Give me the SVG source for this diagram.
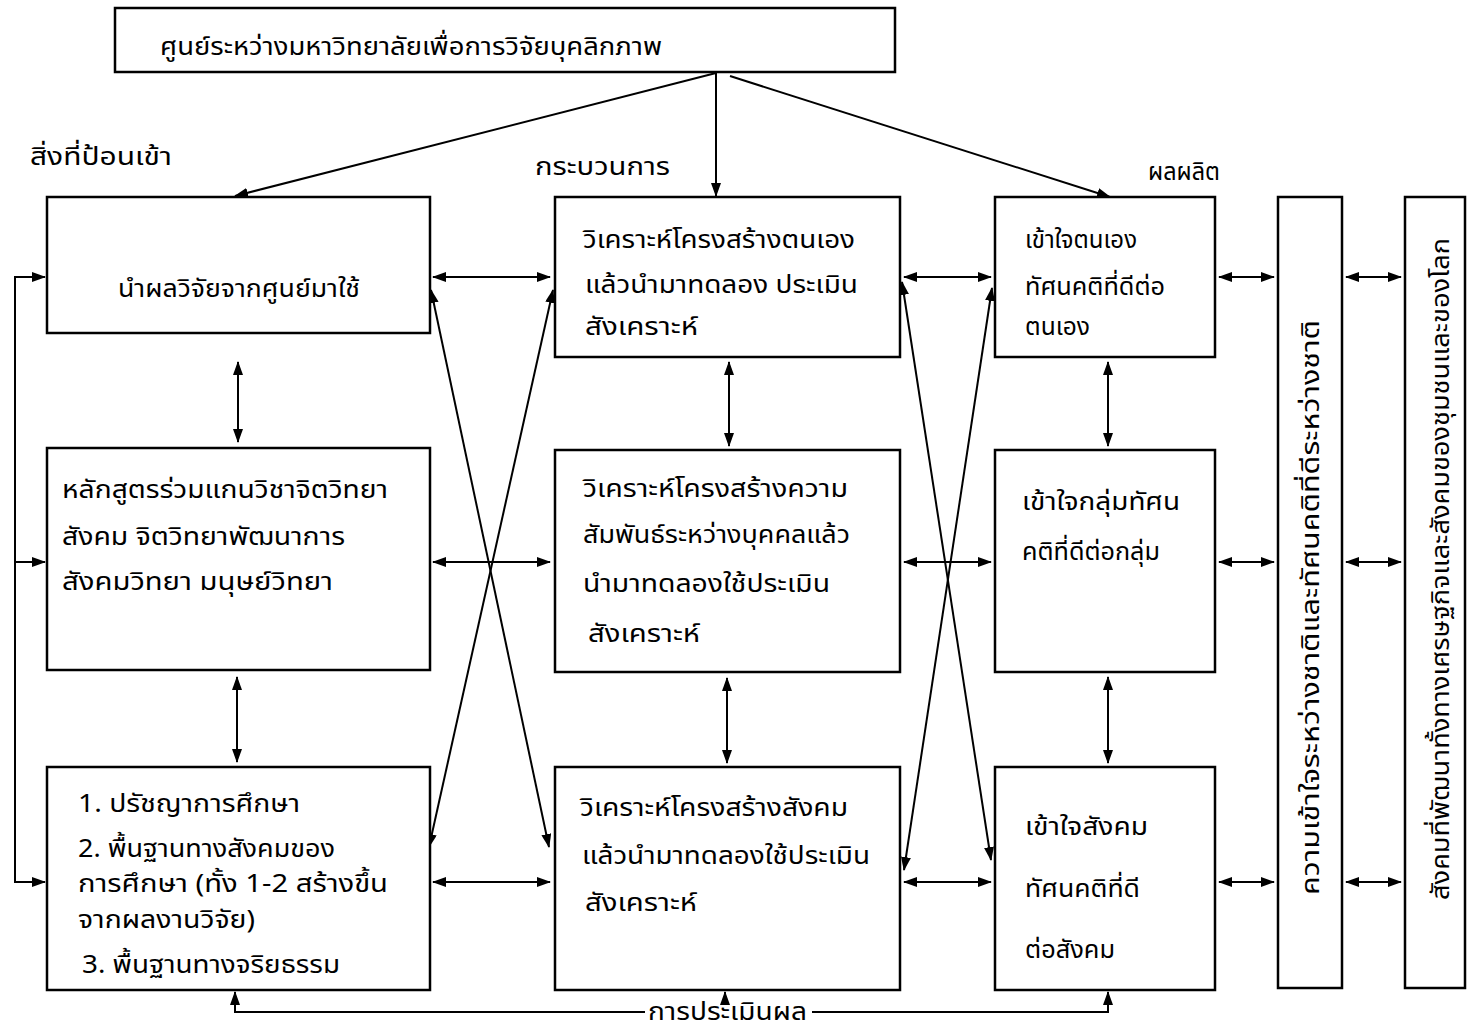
<svg xmlns="http://www.w3.org/2000/svg" width="1467" height="1029" viewBox="0 0 1467 1029">
<style>
.box{fill:#fff;stroke:#000;stroke-width:2.5}
.t{font-family:"Noto Sans Thai","Loma","Garuda","Noto Sans","DejaVu Sans",sans-serif;font-size:25px;fill:#000}
.c{fill:none;stroke:#000;stroke-width:2}
</style>
<defs>
<marker id="ah" markerUnits="userSpaceOnUse" markerWidth="14" markerHeight="10" refX="13" refY="5" orient="auto-start-reverse">
<path d="M0,0 L14,5 L0,10 z" fill="#000"/>
</marker>
</defs>
<rect width="1467" height="1029" fill="#fff"/>

<g id="connectors">
<line class="c" x1="716" y1="73" x2="235" y2="196" marker-end="url(#ah)"/>
<line class="c" x1="716" y1="73" x2="716" y2="196" marker-end="url(#ah)"/>
<line class="c" x1="730" y1="76" x2="1110" y2="197" marker-end="url(#ah)"/>
<line class="c" x1="433" y1="277" x2="550" y2="277" marker-start="url(#ah)" marker-end="url(#ah)"/>
<line class="c" x1="433" y1="562" x2="550" y2="562" marker-start="url(#ah)" marker-end="url(#ah)"/>
<line class="c" x1="433" y1="882" x2="550" y2="882" marker-start="url(#ah)" marker-end="url(#ah)"/>
<line class="c" x1="904" y1="277" x2="991" y2="277" marker-start="url(#ah)" marker-end="url(#ah)"/>
<line class="c" x1="904" y1="562" x2="991" y2="562" marker-start="url(#ah)" marker-end="url(#ah)"/>
<line class="c" x1="904" y1="882" x2="991" y2="882" marker-start="url(#ah)" marker-end="url(#ah)"/>
<line class="c" x1="1219" y1="277" x2="1274" y2="277" marker-start="url(#ah)" marker-end="url(#ah)"/>
<line class="c" x1="1219" y1="562" x2="1274" y2="562" marker-start="url(#ah)" marker-end="url(#ah)"/>
<line class="c" x1="1219" y1="882" x2="1274" y2="882" marker-start="url(#ah)" marker-end="url(#ah)"/>
<line class="c" x1="1346" y1="277" x2="1401" y2="277" marker-start="url(#ah)" marker-end="url(#ah)"/>
<line class="c" x1="1346" y1="562" x2="1401" y2="562" marker-start="url(#ah)" marker-end="url(#ah)"/>
<line class="c" x1="1346" y1="882" x2="1401" y2="882" marker-start="url(#ah)" marker-end="url(#ah)"/>
<line class="c" x1="238" y1="362" x2="238" y2="442" marker-start="url(#ah)" marker-end="url(#ah)"/>
<line class="c" x1="237" y1="677" x2="237" y2="762" marker-start="url(#ah)" marker-end="url(#ah)"/>
<line class="c" x1="729" y1="362" x2="729" y2="446" marker-start="url(#ah)" marker-end="url(#ah)"/>
<line class="c" x1="727" y1="678" x2="727" y2="763" marker-start="url(#ah)" marker-end="url(#ah)"/>
<line class="c" x1="1108" y1="362" x2="1108" y2="446" marker-start="url(#ah)" marker-end="url(#ah)"/>
<line class="c" x1="1108" y1="677" x2="1108" y2="763" marker-start="url(#ah)" marker-end="url(#ah)"/>
<line class="c" x1="431" y1="290" x2="549" y2="847" marker-start="url(#ah)" marker-end="url(#ah)"/>
<line class="c" x1="553" y1="290" x2="429" y2="847" marker-start="url(#ah)" marker-end="url(#ah)"/>
<line class="c" x1="902" y1="282" x2="991" y2="860" marker-start="url(#ah)" marker-end="url(#ah)"/>
<line class="c" x1="992" y1="288" x2="904" y2="870" marker-start="url(#ah)" marker-end="url(#ah)"/>
<path class="c" d="M45,277 H15 V882 H45"/>
<line class="c" x1="15" y1="277" x2="45" y2="277" marker-end="url(#ah)"/>
<line class="c" x1="15" y1="562" x2="45" y2="562" marker-end="url(#ah)"/>
<line class="c" x1="15" y1="882" x2="45" y2="882" marker-end="url(#ah)"/>
<path class="c" d="M645,1012 H235 V992" marker-end="url(#ah)"/>
<line class="c" x1="725" y1="1003" x2="725" y2="992" marker-end="url(#ah)"/>
<path class="c" d="M812,1012 H1108 V992" marker-end="url(#ah)"/>
</g>

<g id="top">
<rect class="box" x="115" y="8" width="780" height="64"/>
<text class="t" x="160" y="55" font-size="27" textLength="502" lengthAdjust="spacingAndGlyphs">ศูนย์ระหว่างมหาวิทยาลัยเพื่อการวิจัยบุคลิกภาพ</text>
</g>

<g id="labels">
<text class="t" x="30" y="165" textLength="142" lengthAdjust="spacingAndGlyphs">สิ่งที่ป้อนเข้า</text>
<text class="t" x="535" y="175" textLength="135" lengthAdjust="spacingAndGlyphs">กระบวนการ</text>
<text class="t" x="1148" y="180" textLength="72" lengthAdjust="spacingAndGlyphs">ผลผลิต</text>
<text class="t" x="648" y="1020" font-size="22" textLength="159" lengthAdjust="spacingAndGlyphs">การประเมินผล</text>
</g>

<g id="L1">
<rect class="box" x="47" y="197" width="383" height="136"/>
<text class="t" x="118" y="297" textLength="242" lengthAdjust="spacingAndGlyphs">นำผลวิจัยจากศูนย์มาใช้</text>
</g>
<g id="L2">
<rect class="box" x="47" y="448" width="383" height="222"/>
<text class="t" x="62" y="498" textLength="326" lengthAdjust="spacingAndGlyphs">หลักสูตรร่วมแกนวิชาจิตวิทยา</text>
<text class="t" x="62" y="545" textLength="283" lengthAdjust="spacingAndGlyphs">สังคม จิตวิทยาพัฒนาการ</text>
<text class="t" x="62" y="590" textLength="271" lengthAdjust="spacingAndGlyphs">สังคมวิทยา มนุษย์วิทยา</text>
</g>
<g id="L3">
<rect class="box" x="47" y="767" width="383" height="223"/>
<text class="t" x="78" y="812" textLength="222" lengthAdjust="spacingAndGlyphs">1. ปรัชญาการศึกษา</text>
<text class="t" x="78" y="857" textLength="257" lengthAdjust="spacingAndGlyphs">2. พื้นฐานทางสังคมของ</text>
<text class="t" x="78" y="892" font-size="21" textLength="310" lengthAdjust="spacingAndGlyphs">การศึกษา (ทั้ง 1-2 สร้างขึ้น</text>
<text class="t" x="78" y="928" font-size="21" textLength="177" lengthAdjust="spacingAndGlyphs">จากผลงานวิจัย)</text>
<text class="t" x="82" y="973" textLength="258" lengthAdjust="spacingAndGlyphs">3. พื้นฐานทางจริยธรรม</text>
</g>

<g id="M1">
<rect class="box" x="555" y="197" width="345" height="160"/>
<text class="t" x="583" y="248" textLength="272" lengthAdjust="spacingAndGlyphs">วิเคราะห์โครงสร้างตนเอง</text>
<text class="t" x="585" y="293" textLength="273" lengthAdjust="spacingAndGlyphs">แล้วนำมาทดลอง ประเมิน</text>
<text class="t" x="585" y="335" textLength="113" lengthAdjust="spacingAndGlyphs">สังเคราะห์</text>
</g>
<g id="M2">
<rect class="box" x="555" y="450" width="345" height="222"/>
<text class="t" x="583" y="497" textLength="265" lengthAdjust="spacingAndGlyphs">วิเคราะห์โครงสร้างความ</text>
<text class="t" x="583" y="543" textLength="267" lengthAdjust="spacingAndGlyphs">สัมพันธ์ระหว่างบุคคลแล้ว</text>
<text class="t" x="583" y="592" textLength="247" lengthAdjust="spacingAndGlyphs">นำมาทดลองใช้ประเมิน</text>
<text class="t" x="588" y="642" textLength="112" lengthAdjust="spacingAndGlyphs">สังเคราะห์</text>
</g>
<g id="M3">
<rect class="box" x="555" y="767" width="345" height="223"/>
<text class="t" x="580" y="816" textLength="268" lengthAdjust="spacingAndGlyphs">วิเคราะห์โครงสร้างสังคม</text>
<text class="t" x="582" y="864" textLength="288" lengthAdjust="spacingAndGlyphs">แล้วนำมาทดลองใช้ประเมิน</text>
<text class="t" x="585" y="911" textLength="112" lengthAdjust="spacingAndGlyphs">สังเคราะห์</text>
</g>

<g id="R1">
<rect class="box" x="995" y="197" width="220" height="160"/>
<text class="t" x="1025" y="248" textLength="112" lengthAdjust="spacingAndGlyphs">เข้าใจตนเอง</text>
<text class="t" x="1025" y="295" textLength="140" lengthAdjust="spacingAndGlyphs">ทัศนคติที่ดีต่อ</text>
<text class="t" x="1025" y="335" textLength="65" lengthAdjust="spacingAndGlyphs">ตนเอง</text>
</g>
<g id="R2">
<rect class="box" x="995" y="450" width="220" height="222"/>
<text class="t" x="1022" y="510" textLength="158" lengthAdjust="spacingAndGlyphs">เข้าใจกลุ่มทัศน</text>
<text class="t" x="1022" y="560" textLength="138" lengthAdjust="spacingAndGlyphs">คติที่ดีต่อกลุ่ม</text>
</g>
<g id="R3">
<rect class="box" x="995" y="767" width="220" height="223"/>
<text class="t" x="1025" y="835" textLength="123" lengthAdjust="spacingAndGlyphs">เข้าใจสังคม</text>
<text class="t" x="1025" y="897" textLength="115" lengthAdjust="spacingAndGlyphs">ทัศนคติที่ดี</text>
<text class="t" x="1025" y="958" textLength="90" lengthAdjust="spacingAndGlyphs">ต่อสังคม</text>
</g>

<g id="V1">
<rect class="box" x="1278" y="197" width="64" height="791"/>
<text class="t" transform="translate(1319,895) rotate(-90)" x="0" y="0" textLength="575" lengthAdjust="spacingAndGlyphs">ความเข้าใจระหว่างชาติและทัศนคติที่ดีระหว่างชาติ</text>
</g>
<g id="V2">
<rect class="box" x="1405" y="197" width="60" height="791"/>
<text class="t" transform="translate(1449,900) rotate(-90)" x="0" y="0" textLength="662" lengthAdjust="spacingAndGlyphs">สังคมที่พัฒนาทั้งทางเศรษฐกิจและสังคมของชุมชนและของโลก</text>
</g>
</svg>
